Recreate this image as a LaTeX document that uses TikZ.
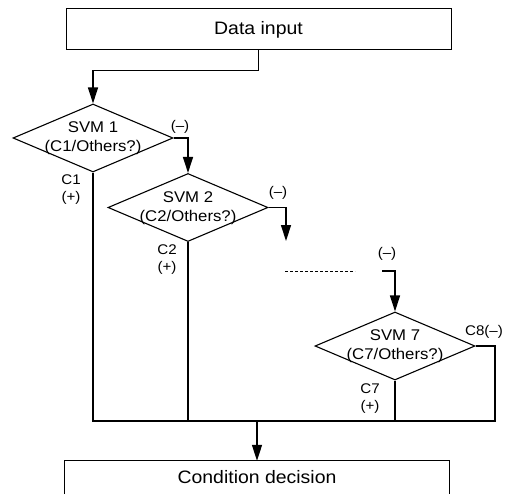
\documentclass[tikz,border=0pt]{standalone}
\usepackage{fontspec}
\setmainfont[FakeStretch=1.08]{Liberation Sans}
\usetikzlibrary{shapes.geometric,arrows.meta}
\begin{document}
\begin{tikzpicture}[x=1pt,y=-1pt,
  ln/.style={line width=1.4pt},
  arr/.style={line width=1.4pt,-{Triangle[length=16pt,width=10pt]}},
  boxnode/.style={rectangle,draw,line width=1pt,inner sep=0pt,minimum width=385pt,minimum height=41pt,font=\fontsize{18}{21}\selectfont},
  dia/.style={diamond,draw,line width=1.1pt,inner sep=0pt,minimum width=160pt,minimum height=68pt},
  dtext/.style={align=center,inner sep=0pt,font=\fontsize{15.5}{19}\selectfont},
  lab/.style={align=center,inner sep=0pt,font=\fontsize{14}{17}\selectfont}
]
\useasboundingbox (0,0) rectangle (510,494);

% boxes
\node[boxnode] (din) at (258.5,29.5) {Data input};
\node[rectangle,draw=none,inner sep=0pt,minimum width=384pt,minimum height=33pt,font=\fontsize{18}{21}\selectfont] (cd) at (257,477.5) {\raisebox{-2pt}{Condition decision}};
\draw[line width=1pt] (cd.south west) -- (cd.north west) -- (cd.north east) -- (cd.south east);

% diamonds
\node[dia] (s1) at (93,138) {};
\node[dtext] (t1) at (93,138.5) {SVM 1\\(C1/Others?)};
\node[dia] (s2) at (188,207.5) {};
\node[dtext] (t2) at (188,208) {SVM 2\\(C2/Others?)};
\node[dia] (s7) at (395,346) {};
\node[dtext] (t7) at (395,346.5) {SVM 7\\(C7/Others?)};

% coordinates
\coordinate (a2) at (286,241);
\coordinate (d1) at (285,271);
\coordinate (d2) at (355,271);
\coordinate (c7in) at (382,271);
\coordinate (bl) at (93,421);
\coordinate (br) at (495,421);
\coordinate (mid) at (257,421);

% connectors
\draw[arr] (din.south) -- ++(0,20) -| (s1.north);
\draw[arr] (s1.east) -| (s2.north);
\draw[arr] (s2.east) -| (a2);
\draw[line width=1pt,dash pattern=on 3pt off 2pt] (d1) -- (d2);
\draw[arr] (c7in) -| (s7.north);
\draw[ln] (s1.south) -- (bl) -- (br) |- (s7.east);
\draw[ln] (s2.south) -- (s2.south |- bl);
\draw[ln] (s7.south) -- (s7.south |- bl);
\draw[arr] (mid) -- (cd.north -| mid);

% labels
\node[lab] (l1) at (180,127) {(–)};
\node[lab] (l2) at (71,189.5) {C1\\(+)};
\node[lab] (l3) at (278,193) {(–)};
\node[lab] (l4) at (167,260) {C2\\(+)};
\node[lab] (l5) at (387,254) {(–)};
\node[lab] (l6) at (484,332) {C8(–)};
\node[lab] (l7) at (370,398.5) {C7\\(+)};
\end{tikzpicture}
\end{document}
